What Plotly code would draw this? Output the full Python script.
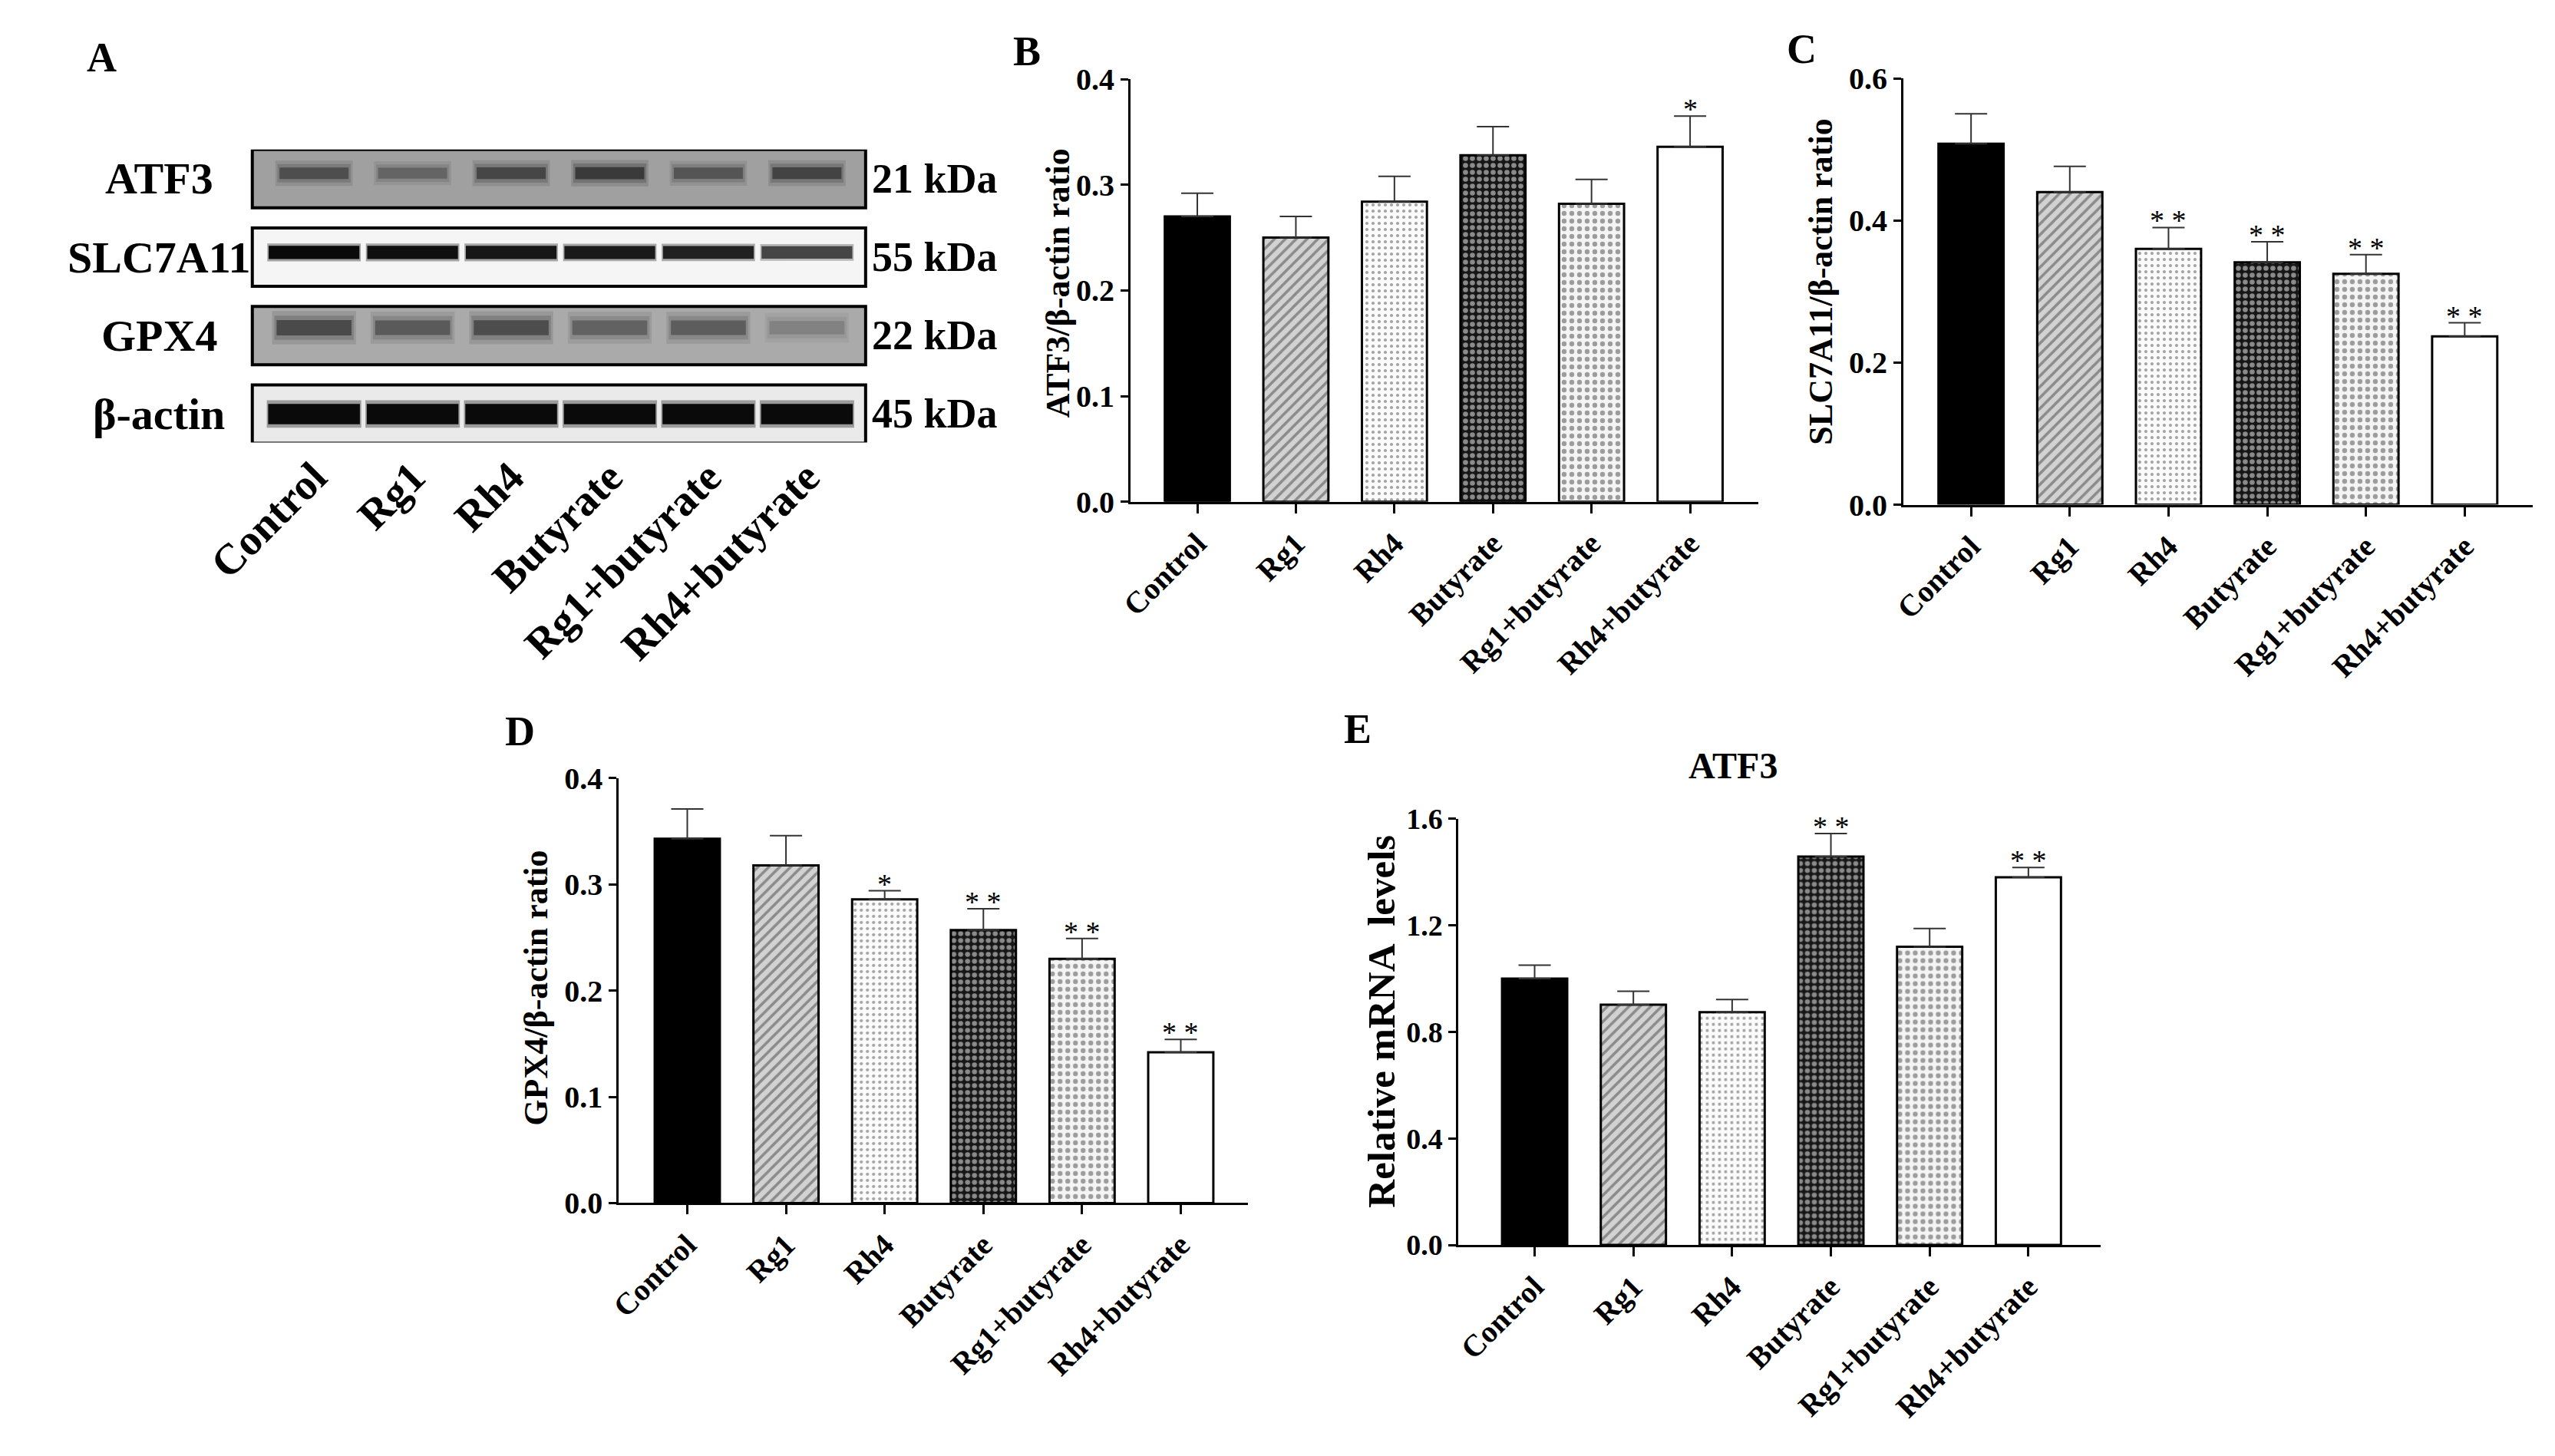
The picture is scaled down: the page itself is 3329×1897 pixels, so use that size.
import plotly.graph_objects as go

W, H = 3329, 1897
FONT = "Liberation Serif"

# groups shared by every panel
groups = ["Control", "Rg1", "Rh4", "Butyrate", "Rg1+butyrate", "Rh4+butyrate"]

# B: ATF3/beta-actin
atf3_ratio = [0.270, 0.250, 0.284, 0.328, 0.282, 0.336]
atf3_ratio_err = [0.022, 0.020, 0.024, 0.027, 0.023, 0.029]
atf3_sig = ["", "", "", "", "", "*"]

# C: SLC7A11/beta-actin
slc_ratio = [0.508, 0.440, 0.360, 0.341, 0.325, 0.237]
slc_ratio_err = [0.042, 0.036, 0.030, 0.029, 0.027, 0.019]
slc_sig = ["", "", "**", "**", "**", "**"]

# D: GPX4/beta-actin
gpx4_ratio = [0.343, 0.318, 0.286, 0.257, 0.230, 0.142]
gpx4_ratio_err = [0.028, 0.028, 0.008, 0.020, 0.019, 0.012]
gpx4_sig = ["", "", "*", "**", "**", "**"]

# E: ATF3 mRNA
atf3_mrna = [1.000, 0.902, 0.874, 1.458, 1.119, 1.380]
atf3_mrna_err = [0.050, 0.050, 0.047, 0.086, 0.069, 0.037]
atf3_mrna_sig = ["", "", "", "**", "", "**"]

# A: western blot, band darkness per lane (0 = background, 1 = black)
blot_proteins = ["ATF3", "SLC7A11", "GPX4", "β-actin"]
blot_kda = ["21 kDa", "55 kDa", "22 kDa", "45 kDa"]
band_atf3 = [0.55, 0.40, 0.60, 0.68, 0.50, 0.62]
band_slc = [1.00, 0.98, 0.95, 0.93, 0.90, 0.75]
band_gpx4 = [0.60, 0.50, 0.58, 0.45, 0.48, 0.25]
band_actin = [1.00, 1.00, 1.00, 1.00, 1.00, 1.00]

# bar looks per group (GraphPad style fills)
bar_color = ["black", "#d2d2d2", "#fbfbfb", "#161616", "#f4f4f4", "white"]
pat_shape = ["", "/", ".", ".", ".", ""]
pat_fg = ["black", "#6a6a6a", "#2a2a2a", "white", "#ababab", "black"]
pat_size = [10, 10, 8, 9, 10, 10]
pat_solid = [0.3, 0.35, 0.2, 0.42, 0.32, 0.3]


def fx(px):
    return px / W


def fy(px):
    return 1 - px / H


def gray(v):
    return "rgb(%d,%d,%d)" % (v, v, v)


fig = go.Figure()
annotations = []


def bar_panel(n, values, errors, sig, xdom, ydom, xrange, yrange, dtick,
              ytitle, ytitle_xy, ytitle_size=44, tick_size=40):
    xa = "x" if n == 1 else "x%d" % n
    ya = "y" if n == 1 else "y%d" % n
    fig.add_trace(go.Bar(
        x=groups, y=values, width=0.66, xaxis=xa, yaxis=ya,
        marker=dict(color=bar_color, line=dict(color="black", width=3),
                    pattern=dict(shape=pat_shape, fgcolor=pat_fg,
                                 size=pat_size, solidity=pat_solid,
                                 fillmode="overlay")),
        error_y=dict(type="data", array=errors, arrayminus=[0] * 6,
                     symmetric=False, color="#333333", thickness=2, width=21),
        showlegend=False, hoverinfo="skip"))
    axis_common = dict(showline=True, linewidth=3, linecolor="black",
                       ticks="outside", tickwidth=3, tickcolor="black",
                       showgrid=False, zeroline=False, fixedrange=True)
    fig.update_layout(**{
        ("xaxis" if n == 1 else "xaxis%d" % n): dict(
            domain=xdom, range=xrange, anchor=ya, ticklen=12, tickangle=-45,
            tickfont=dict(size=40), **axis_common),
        ("yaxis" if n == 1 else "yaxis%d" % n): dict(
            domain=ydom, range=yrange, anchor=xa, dtick=dtick, tick0=0,
            tickformat=".1f", ticklen=10, tickfont=dict(size=tick_size),
            **axis_common),
    })
    for g, v, e, s in zip(groups, values, errors, sig):
        if s:
            annotations.append(dict(
                x=g, y=v + e, xref=xa, yref=ya, text=" ".join(s),
                showarrow=False, xanchor="center", yanchor="bottom", yshift=-14,
                font=dict(size=38, weight="normal")))
    annotations.append(dict(
        x=fx(ytitle_xy[0]), y=fy(ytitle_xy[1]), xref="paper", yref="paper",
        text=ytitle, textangle=-90, showarrow=False,
        xanchor="center", yanchor="middle", font=dict(size=ytitle_size)))


bar_panel(1, atf3_ratio, atf3_ratio_err, atf3_sig,
          [fx(1436), fx(2270)], [fy(647), fy(83)], [-0.678, 5.69], [0, 0.4], 0.1,
          "ATF3/β-actin ratio", (1340, 355))
bar_panel(2, slc_ratio, slc_ratio_err, slc_sig,
          [fx(2463), fx(3299)], [fy(651), fy(82)], [-0.686, 5.686], [0, 0.6], 0.2,
          "SLC7A11/β-actin ratio", (2354, 354))
bar_panel(3, gpx4_ratio, gpx4_ratio_err, gpx4_sig,
          [fx(756), fx(1592)], [fy(1583), fy(1016)], [-0.694, 5.68], [0, 0.4], 0.1,
          "GPX4/β-actin ratio", (646, 1296))
bar_panel(4, atf3_mrna, atf3_mrna_err, atf3_mrna_sig,
          [fx(1872), fx(2725)], [fy(1639), fy(1070)], [-0.77, 5.73], [0, 1.6], 0.4,
          "Relative mRNA  levels", (1770, 1340), ytitle_size=51, tick_size=38)

# ---- panel A: blot drawn as bands on a lane axis ----
row_y = [3, 2, 1, 0]
row_bg = [160, 245, 170, 234]          # background gray of each membrane strip
row_offset = [0.07, 0.06, 0.10, 0.0]   # band sits a bit above strip centre
row_thick = [0.17, 0.17, 0.22, 0.26]
row_bandw = [0.70, 0.92, 0.76, 0.93]
row_soft = [True, False, True, False]
lanes = list(range(6))
box_half = 0.372


def band_color(bg, k):
    return gray(int(round(bg * (1 - k) + 10 * k)))


for i, bands in enumerate([band_atf3, band_slc, band_gpx4, band_actin]):
    c = row_y[i] + row_offset[i]
    fig.add_shape(type="rect", xref="x5 domain", yref="y5", x0=0, x1=1,
                  y0=row_y[i] - box_half, y1=row_y[i] + box_half, layer="below",
                  fillcolor=gray(row_bg[i]),
                  line=dict(color="black", width=4))
    th = [row_thick[i] * (0.7 + 0.3 * k) for k in bands]
    cols = [band_color(row_bg[i], k) for k in bands]
    # blurred edges: wide faint layers, then the core
    layers = [(2.2, 1.12, 0.18), (1.6, 1.06, 0.3), (1.0, 1.0, 1.0)]
    if not row_soft[i]:
        layers = [(1.35, 1.03, 0.35), (1.0, 1.0, 1.0)]
    for hf, wf, op in layers:
        fig.add_trace(go.Bar(
            x=lanes, y=[t * hf for t in th],
            base=[c - t * hf / 2 for t in th],
            width=row_bandw[i] * wf,
            marker=dict(color=cols, line=dict(width=0)),
            opacity=op, xaxis="x5", yaxis="y5", showlegend=False,
            hoverinfo="skip"))
    annotations.append(dict(x=fx(145), y=row_y[i], xref="paper", yref="y5",
                            text=blot_proteins[i], showarrow=False,
                            xanchor="center", yanchor="middle",
                            font=dict(size=58)))
    annotations.append(dict(x=fx(1090), y=row_y[i], xref="paper", yref="y5",
                            text=blot_kda[i], showarrow=False,
                            xanchor="left", yanchor="middle",
                            font=dict(size=54)))

fig.update_layout(
    xaxis5=dict(domain=[fx(269), fx(1084)], range=[-0.626, 5.595], anchor="y5",
                tickvals=lanes, ticktext=groups, tickangle=-45,
                tickfont=dict(size=56), ticks="", showline=False,
                showgrid=False, zeroline=False, fixedrange=True),
    yaxis5=dict(domain=[fy(568), fy(177)], range=[-0.363, 3.372], anchor="x5",
                visible=False, fixedrange=True),
)

# panel letters and the E title
for letter, (lx, ly) in zip("ABCDE", [(69, 54), (1298, 46), (2328, 43),
                                      (625, 954), (1738, 951)]):
    annotations.append(dict(x=fx(lx), y=fy(ly), xref="paper", yref="paper",
                            text=letter, showarrow=False, xanchor="center",
                            yanchor="middle", font=dict(size=54)))
annotations.append(dict(x=fx(2237), y=fy(999), xref="paper", yref="paper",
                        text="ATF3", showarrow=False, xanchor="center",
                        yanchor="middle", font=dict(size=48)))

fig.update_layout(
    width=W, height=H, autosize=False,
    margin=dict(l=0, r=0, t=0, b=0),
    paper_bgcolor="white", plot_bgcolor="white",
    font=dict(family=FONT, color="black", weight="bold"),
    barmode="overlay",
    annotations=annotations,
)

fig.write_html("out.html", post_script="document.body.style.margin='0';",
               config={"displayModeBar": False})
